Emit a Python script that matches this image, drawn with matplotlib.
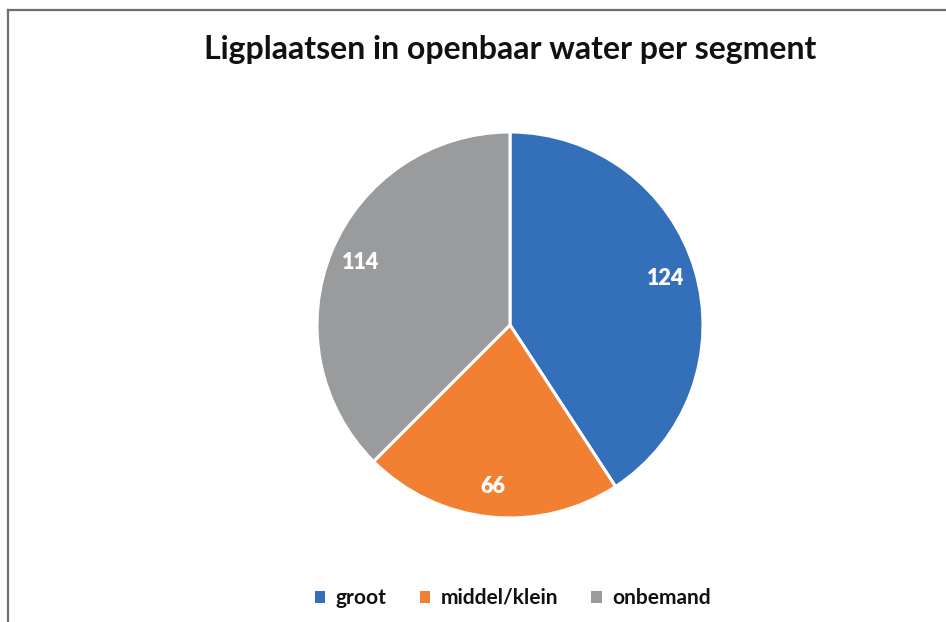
import matplotlib
matplotlib.use("Agg")
import matplotlib.pyplot as plt
from matplotlib.lines import Line2D
from matplotlib.patches import Patch

categories = ["groot", "middel/klein", "onbemand"]
values = [124, 66, 114]
colors = ["#3470B9", "#F28033", "#999B9C"]
title = "Ligplaatsen in openbaar water per segment"

plt.rcParams['font.family'] = ['Lato', 'DejaVu Sans']

W, H = 946, 622
fig = plt.figure(figsize=(W / 100, H / 100), dpi=100)

# frame (only left and top visible)
fig.add_artist(Line2D([8 / W, 8 / W], [0, 1 - 10 / H], transform=fig.transFigure,
                      color="#6e6e6e", lw=1.6))
fig.add_artist(Line2D([8 / W, 1], [1 - 10 / H, 1 - 10 / H], transform=fig.transFigure,
                      color="#6e6e6e", lw=1.6))

cx, cy, r = 510, 325, 193
ax = fig.add_axes([(cx - r) / W, 1 - (cy + r) / H, 2 * r / W, 2 * r / H])
wedges, texts, autotexts = ax.pie(
    values, colors=colors, startangle=90, counterclock=False,
    autopct=lambda p: f"{round(p * sum(values) / 100):d}", pctdistance=0.84,
    wedgeprops=dict(edgecolor="white", linewidth=2.2),
    textprops=dict(color="white", fontsize=15.5, fontweight="heavy"))
ax.set_xlim(-1, 1)
ax.set_ylim(-1, 1)
ax.set_aspect("equal")
ax.axis("off")

fig.text(cx / W, 1 - 50 / H, title, ha="center", va="center",
         fontsize=23, fontweight="bold", color="#111111")

handles = [Patch(facecolor=c, edgecolor="none") for c in colors]
leg = fig.legend(handles, categories, loc="center", bbox_to_anchor=(cx / W + 0.003, 1 - 598 / H),
                 ncol=3, frameon=False, handlelength=0.5, handleheight=0.5,
                 handletextpad=0.5, columnspacing=1.6,
                 prop=dict(family=['Lato', 'DejaVu Sans'], weight="bold", size=15))
for t in leg.get_texts():
    t.set_color("#111111")

fig.savefig("out.png", dpi=100)
